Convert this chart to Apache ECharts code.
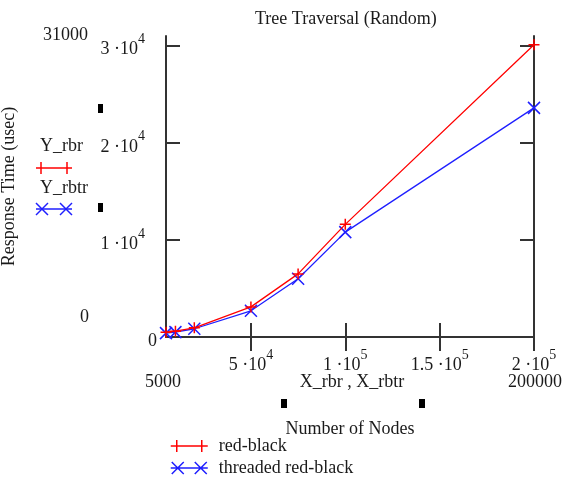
<!DOCTYPE html>
<html>
<head>
<meta charset="utf-8">
<style>
  html, body { margin: 0; padding: 0; background: #fff; }
  #chart { width: 566px; height: 481px; }
</style>
<script src="https://cdn.jsdelivr.net/npm/echarts@6/dist/echarts.min.js"></script>
</head>
<body>
<div id="chart"></div>
<script>
// ── Data ──────────────────────────────────────────────────────────────────────
const nodes = [5000, 10000, 20000, 50000, 75000, 100000, 200000]
const redBlack = [500, 600, 950, 3100, 6500, 11600, 30100]
const threadedRedBlack = [400, 500, 850, 2700, 6000, 10800, 23600]
const xTicks = [50000, 100000, 150000, 200000]
const yTicks = [10000, 20000, 30000]
const yLabels = [0, 10000, 20000, 30000]

const FONT = '"Liberation Serif", "Times New Roman", serif'
const INK = '#1a1a1a'
const AXIS = '#333'
const RED = '#ff0000'
const BLUE = '#1f1fff'

const plusIcon = 'path://M0,5L10,5M5,0L5,10'
const crossIcon = 'path://M0,0L10,10M0,10L10,0'
const plusLegend = 'path://M0,6L37,6M6,0L6,12M31,0L31,12'
const crossLegend = 'path://M0,6L37,6M1,0L13,12M1,12L13,0M24,0L36,12M24,12L36,0'

// ── Helpers ───────────────────────────────────────────────────────────────────
function sciLabel(v) {
  if (v === 0) return '{n|0}'
  const e = Math.floor(Math.log10(v))
  const m = v / Math.pow(10, e)
  return '{n|' + m + ' \u00b710}{s|' + e + '}'
}

function richFor(extraRight) {
  return {
    n: { fontFamily: FONT, fontSize: 18, color: INK, lineHeight: 26, verticalAlign: 'bottom' },
    s: { fontFamily: FONT, fontSize: 14, color: INK, lineHeight: 26, verticalAlign: 'top', padding: [0, extraRight, 2, 0] },
  }
}

function text(str, x, y, align) {
  return {
    type: 'text', x, y,
    style: { text: str, font: '18px ' + FONT, fill: INK, align: align || 'left', verticalAlign: 'middle' },
  }
}

function seg(x1, y1, x2, y2, color) {
  return { type: 'line', shape: { x1, y1, x2, y2 }, style: { stroke: color, lineWidth: 1.5 } }
}

const boxAxis = {
  axisLine: { show: true, lineStyle: { color: AXIS, width: 2 } },
  axisTick: { show: true, inside: true, length: 14, lineStyle: { color: AXIS, width: 2 } },
  splitLine: { show: false },
}

// ── Chart ─────────────────────────────────────────────────────────────────────
const chart = echarts.init(document.getElementById('chart'))

chart.setOption({
  animation: false,
  title: {
    text: 'Tree Traversal (Random)',
    left: 255, top: 10, padding: 0,
    textStyle: { fontFamily: FONT, fontSize: 18, fontWeight: 'normal', color: INK },
  },
  grid: { left: 166, right: 32, top: 36, bottom: 144, containLabel: false, outerBoundsMode: 'none' },
  legend: {
    orient: 'vertical', left: 165, top: 431, height: 50, itemGap: 2,
    itemWidth: 37, itemHeight: 12,
    textStyle: { fontFamily: FONT, fontSize: 18, lineHeight: 20, color: INK, padding: [0, 0, 0, 6] },
    data: [
      { name: 'red-black', icon: plusLegend, itemStyle: { color: RED, borderColor: RED, borderWidth: 1.5 } },
      { name: 'threaded red-black', icon: crossLegend, itemStyle: { color: BLUE, borderColor: BLUE, borderWidth: 1.5 } },
    ],
  },
  xAxis: [
    {
      type: 'value', min: 5000, max: 200000, position: 'bottom',
      ...boxAxis,
      axisTick: { ...boxAxis.axisTick, customValues: xTicks },
      axisLabel: { customValues: xTicks, margin: 11, formatter: sciLabel, rich: richFor(0) },
      name: 'Number of Nodes', nameLocation: 'middle', nameGap: 83,
      nameTextStyle: { fontFamily: FONT, fontSize: 18, color: INK },
    },
    {
      type: 'value', min: 5000, max: 200000, position: 'top',
      ...boxAxis,
      axisTick: { ...boxAxis.axisTick, customValues: xTicks },
      axisLabel: { show: false },
    },
  ],
  yAxis: [
    {
      type: 'value', min: 0, max: 31000, position: 'left',
      ...boxAxis,
      axisTick: { ...boxAxis.axisTick, customValues: yTicks },
      axisLabel: { customValues: yLabels, margin: 9, formatter: sciLabel, rich: richFor(12) },
      name: 'Response Time (usec)', nameLocation: 'middle', nameRotate: 90, nameGap: 148,
      nameTextStyle: { fontFamily: FONT, fontSize: 18, color: INK },
    },
    {
      type: 'value', min: 0, max: 31000, position: 'right',
      ...boxAxis,
      axisTick: { ...boxAxis.axisTick, customValues: yTicks },
      axisLabel: { show: false },
    },
  ],
  series: [
    {
      name: 'red-black', type: 'line',
      data: nodes.map((x, i) => [x, redBlack[i]]),
      symbol: plusIcon, symbolSize: 11, showAllSymbol: true,
      lineStyle: { color: RED, width: 1.3 },
      itemStyle: { color: RED, borderColor: RED, borderWidth: 1.5 },
      z: 3,
    },
    {
      name: 'threaded red-black', type: 'line',
      data: nodes.map((x, i) => [x, threadedRedBlack[i]]),
      symbol: crossIcon, symbolSize: 12, showAllSymbol: true,
      lineStyle: { color: BLUE, width: 1.3 },
      itemStyle: { color: BLUE, borderColor: BLUE, borderWidth: 1.5 },
      z: 2,
    },
  ],
  graphic: [
    text('31000', 43, 35),
    text('0', 80, 317),
    { type: 'rect', shape: { x: 98, y: 104, width: 5, height: 9 }, style: { fill: '#000' } },
    { type: 'rect', shape: { x: 98, y: 203, width: 5, height: 9 }, style: { fill: '#000' } },
    text('Y_rbr', 40, 146),
    seg(36, 168, 72, 168, RED),
    seg(41, 162, 41, 174, RED),
    seg(67, 162, 67, 174, RED),
    text('Y_rbtr', 40, 188),
    seg(36, 209, 72, 209, BLUE),
    seg(36, 203, 48, 215, BLUE),
    seg(36, 215, 48, 203, BLUE),
    seg(60, 203, 72, 215, BLUE),
    seg(60, 215, 72, 203, BLUE),
    text('5000', 145, 382),
    text('X_rbr , X_rbtr', 352, 382, 'center'),
    text('200000', 508, 382),
    { type: 'rect', shape: { x: 281, y: 399, width: 6, height: 9 }, style: { fill: '#000' } },
    { type: 'rect', shape: { x: 419, y: 399, width: 6, height: 9 }, style: { fill: '#000' } },
  ],
})
</script>
</body>
</html>
